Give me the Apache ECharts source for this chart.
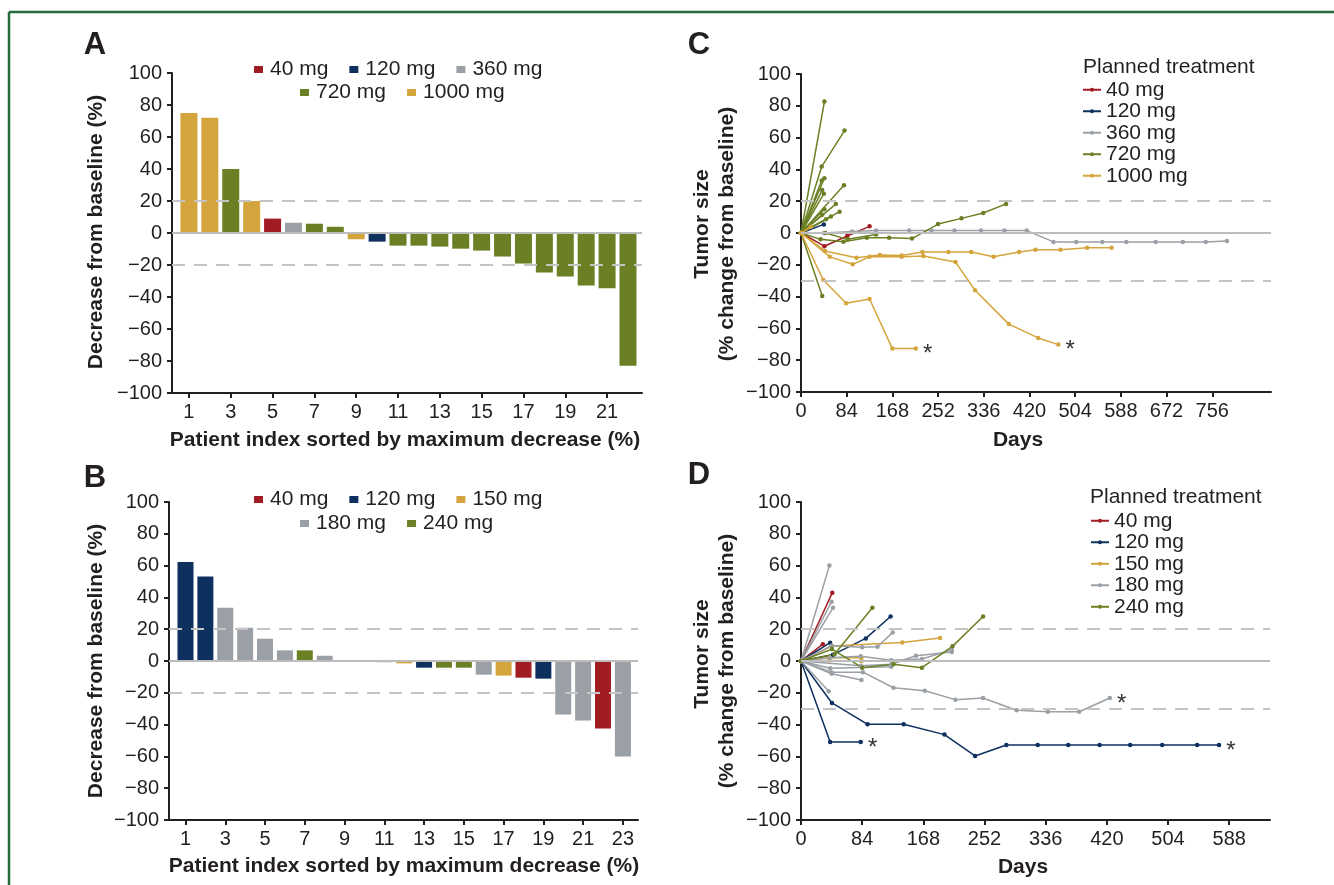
<!DOCTYPE html>
<html>
<head>
<meta charset="utf-8">
<script src="https://cdn.jsdelivr.net/npm/echarts@6/dist/echarts.min.js"></script>
<style>
  html, body { margin: 0; padding: 0; background: #fff; }
  #chart { width: 1334px; height: 885px; }
</style>
</head>
<body>
<div id="chart"></div>
<script>
// ---------- Panel A: best change per patient (first cohort) ----------
const patientsA = [1, 2, 3, 4, 5, 6, 7, 8, 9, 10, 11, 12, 13, 14, 15, 16, 17, 18, 19, 20, 21, 22];
const doseA = ['1000 mg', '1000 mg', '720 mg', '1000 mg', '40 mg', '360 mg', '720 mg', '720 mg', '1000 mg', '120 mg',
  '720 mg', '720 mg', '720 mg', '720 mg', '720 mg', '720 mg', '720 mg', '720 mg', '720 mg', '720 mg', '720 mg', '720 mg'];
const changeA = [75, 72, 40, 20, 9, 6.4, 5.8, 3.9, -3.9, -5.4, -7.9, -7.9, -8.5, -9.8, -11, -14.7, -19.1, -24.7, -27.2, -32.8, -34.6, -83];
const legendA1 = ['40 mg', '120 mg', '360 mg'];
const legendA2 = ['720 mg', '1000 mg'];

// ---------- Panel B: best change per patient (second cohort) ----------
const patientsB = [1, 2, 3, 4, 5, 6, 7, 8, 9, 10, 11, 12, 13, 14, 15, 16, 17, 18, 19, 20, 21, 22, 23];
const doseB = ['120 mg', '120 mg', '180 mg', '180 mg', '180 mg', '180 mg', '240 mg', '180 mg', '150 mg', '180 mg', '180 mg',
  '150 mg', '120 mg', '240 mg', '240 mg', '180 mg', '150 mg', '40 mg', '120 mg', '180 mg', '180 mg', '40 mg', '180 mg'];
const changeB = [62.3, 53.1, 33.5, 20.9, 14, 6.7, 6.7, 3.3, 0.4, 0, -0.8, -1.5, -4.2, -4.2, -4.2, -8.6, -9.2, -10.5, -11.1, -33.7, -37.4, -42.5, -60];
const legendB1 = ['40 mg', '120 mg', '150 mg'];
const legendB2 = ['180 mg', '240 mg'];

// ---------- Tick labels ----------
const ticksA = [1, 3, 5, 7, 9, 11, 13, 15, 17, 19, 21];
const ticksB = [1, 3, 5, 7, 9, 11, 13, 15, 17, 19, 21, 23];
const dayTicksC = [0, 84, 168, 252, 336, 420, 504, 588, 672, 756];
const dayTicksD = [0, 84, 168, 252, 336, 420, 504, 588];

// ---------- Panel C: tumor size over time, [day, % change] ----------
const dosesC = ['40 mg', '120 mg', '360 mg', '720 mg', '1000 mg'];
const curvesC_40 = [
  [[0, 0], [43, -8.3], [85, -1.9], [126, 4.2]]
];
const curvesC_120 = [
  [[0, 0], [42, 5.4]]
];
const curvesC_360 = [
  [[0, 0], [42, 0], [94, 1], [138, 1.6], [199, 1.6], [240, 1.5], [282, 1.5], [331, 1.5], [374, 1.5], [415, 1.5],
   [464, -5.6], [506, -5.6], [554, -5.6], [598, -5.6], [652, -5.6], [702, -5.6], [744, -5.6], [783, -5]]
];
const curvesC_720 = [
  [[0, 0], [43, 82.7]],
  [[0, 0], [38, 41.8], [80, 64.4]],
  [[0, 0], [43, 34.5]],
  [[0, 0], [38, 33]],
  [[0, 0], [39, 27]],
  [[0, 0], [42, 24.7]],
  [[0, 0], [79, 30]],
  [[0, 0], [64, 18.2]],
  [[0, 0], [43, 14.9]],
  [[0, 0], [71, 13.4]],
  [[0, 0], [39, 11.5]],
  [[0, 0], [55, 10.3]],
  [[0, 0], [46, 8.6]],
  [[0, 0], [39, -39.6]],
  [[0, 0], [45, 0], [86, -4], [138, -1]],
  [[0, 0], [36, -4], [78, -5.5], [121, -3], [162, -3], [204, -3.5], [252, 5.6], [295, 9.2], [335, 12.6], [377, 18.3]]
];
const curvesC_1000 = [
  [[0, 0], [41, -29.6], [83, -44.2], [126, -41.5], [168, -72.7], [211, -72.7]],
  [[0, 0], [44, -11.3], [102, -15.6], [145, -13.8], [185, -14.2], [223, -11.9], [271, -11.9], [313, -11.9],
   [354, -15], [401, -12], [431, -10.5], [477, -10.5], [526, -9.2], [571, -9.2]],
  [[0, 0], [53, -15], [95, -19.7], [126, -15], [185, -15], [225, -14.4], [284, -18.3], [320, -36], [382, -57.3],
   [436, -66], [473, -70.2]],
  [[0, 0], [18, 4]]
];
// curves whose final assessment carries an asterisk: [dose, curve index]
const asteriskC = [['1000 mg', 0], ['1000 mg', 2]];

// ---------- Panel D: tumor size over time, [day, % change] ----------
const dosesD = ['40 mg', '120 mg', '150 mg', '180 mg', '240 mg'];
const curvesD_40 = [
  [[0, 0], [43, 43]],
  [[0, 0], [30, 10.6]]
];
const curvesD_120 = [
  [[0, 0], [40, 11.5]],
  [[0, 0], [44, 4], [89, 14.2], [123, 28]],
  [[0, 0], [40, -51], [82, -51]],
  [[0, 0], [42.5, -26.4], [91.5, -39.8], [141, -39.8], [197, -46.3], [239, -59.7], [282, -52.8], [325, -52.8],
   [367, -52.8], [410, -52.8], [452, -52.8], [496, -52.8], [544, -52.8], [574, -52.8]]
];
const curvesD_150 = [
  [[0, 0], [42.5, 9.4], [139, 11.7], [191, 14.4]],
  [[0, 0], [39, 2], [83, 2]],
  [[0, 0], [39, 0.3], [83, 0]]
];
const curvesD_180 = [
  [[0, 0], [39, 60]],
  [[0, 0], [42, 37.3]],
  [[0, 0], [44, 33.5]],
  [[0, 0], [42, 9.6], [84, 8.6], [105, 9], [126, 18]],
  [[0, 0], [40, 2], [82, 3], [124, 0.5], [166, 1.3], [207, 7]],
  [[0, 0], [82, -3], [124, -2], [158, 3.3], [207, 5.6]],
  [[0, 0], [42, -8], [83, -12]],
  [[0, 0], [38, -19]],
  [[0, 0], [40, -4.6], [124, -3.6]],
  [[0, 0], [42, -7], [85, -7], [127, -16.8], [170, -18.7], [212, -24.3], [250, -23.3], [296, -31], [339, -31.9],
   [382, -31.9], [424, -23.3]]
];
const curvesD_240 = [
  [[0, 0], [42.5, 7.5], [84, -4.2], [127, -2.1], [166, -4.2], [208, 9.2], [250, 28]],
  [[0, 0], [46, 4.2], [98, 33.5]]
];
const asteriskD = [['120 mg', 2], ['120 mg', 3], ['180 mg', 9]];

// ---------- Styling ----------
const FONT = '"Liberation Sans", Arial, Helvetica, sans-serif';
const INK = '#231f20';
const DOSE_COLOR = {
  '40 mg': '#a11d23', '120 mg': '#0d305f', '150 mg': '#d5a53d', '180 mg': '#9aa0a5',
  '240 mg': '#6b8024', '360 mg': '#9aa0a5', '720 mg': '#6b8024', '1000 mg': '#d5a53d'
};
const REF_GRAY = '#c4c4c4';

const curvesC = { '40 mg': curvesC_40, '120 mg': curvesC_120, '360 mg': curvesC_360, '720 mg': curvesC_720, '1000 mg': curvesC_1000 };
const curvesD = { '40 mg': curvesD_40, '120 mg': curvesD_120, '150 mg': curvesD_150, '180 mg': curvesD_180, '240 mg': curvesD_240 };

const minusFmt = v => (v < 0 ? '\u2212' + Math.abs(v) : String(v));

function refLines(levels) {
  const data = levels.map(v => ({
    yAxis: v,
    lineStyle: v === 0
      ? { type: 'solid', color: '#bdbdbd', width: 2 }
      : { type: [13, 9], color: REF_GRAY, width: 2 }
  }));
  return { silent: true, symbol: ['none', 'none'], label: { show: false }, data, animation: false };
}

function valueYAxis(gridIndex) {
  return {
    gridIndex, type: 'value', min: -100, max: 100, interval: 20,
    axisLine: { show: true, onZero: false, lineStyle: { color: INK, width: 2 } },
    axisTick: { show: true, length: 5, lineStyle: { color: INK, width: 2 } },
    axisLabel: { fontSize: 20, fontFamily: FONT, color: INK, margin: 10, formatter: minusFmt },
    splitLine: { show: false }
  };
}

function valueXAxis(gridIndex, min, max, ticks) {
  return {
    gridIndex, type: 'value', min, max,
    axisLine: { show: true, onZero: false, lineStyle: { color: INK, width: 2 } },
    axisTick: { show: true, length: 5, customValues: ticks, lineStyle: { color: INK, width: 2 } },
    axisLabel: { fontSize: 20, fontFamily: FONT, color: INK, margin: 9, customValues: ticks },
    splitLine: { show: false }
  };
}

function barSeries(prefix, axisIdx, patients, doses, values, barWidth, refFirst) {
  const order = [];
  doses.forEach(d => { if (!order.includes(d)) order.push(d); });
  return order.map((dose, k) => {
    const s = {
      name: prefix + dose, type: 'bar', xAxisIndex: axisIdx, yAxisIndex: axisIdx,
      barWidth, barGap: '-100%', animation: false,
      itemStyle: { color: DOSE_COLOR[dose] },
      data: patients.map((p, i) => (doses[i] === dose ? [p, values[i]] : null)).filter(Boolean)
    };
    if (k === 0) s.markLine = refLines(refFirst);
    return s;
  });
}

function lineSeries(prefix, axisIdx, doses, curves, starred, refLevels) {
  const out = [];
  doses.forEach(dose => {
    curves[dose].forEach((curve, ci) => {
      const hasStar = starred.some(([d, c]) => d === dose && c === ci);
      const data = curve.map((pt, pi) => {
        if (hasStar && pi === curve.length - 1) {
          return {
            value: pt,
            label: { show: true, formatter: '*', position: 'right', distance: 5, offset: [0, 6],
                     fontSize: 24, fontFamily: FONT, color: '#333' }
          };
        }
        return pt;
      });
      out.push({
        name: prefix + dose, type: 'line', xAxisIndex: axisIdx, yAxisIndex: axisIdx,
        symbol: 'circle', symbolSize: 4.5, showSymbol: true, animation: false,
        lineStyle: { color: DOSE_COLOR[dose], width: 1.5 },
        itemStyle: { color: DOSE_COLOR[dose] },
        emphasis: { disabled: true },
        data
      });
    });
  });
  out[0].markLine = refLines(refLevels);
  out[0].z = 1;
  return out;
}

function barLegend(prefix, names, left, top) {
  return {
    data: names.map(n => prefix + n), left, top, orient: 'horizontal', padding: 0,
    icon: 'rect', itemWidth: 9, itemHeight: 7, itemGap: 21,
    formatter: n => n.slice(prefix.length),
    textStyle: { fontSize: 21, fontFamily: FONT, color: INK, padding: [0, 0, 0, 2] },
    selectedMode: false
  };
}

function lineLegend(prefix, names, left, top) {
  return {
    data: names.map(n => prefix + n), left, top, orient: 'vertical', padding: 0,
    itemWidth: 18, itemHeight: 5, itemGap: 0,
    formatter: n => n.slice(prefix.length),
    textStyle: { fontSize: 21, fontFamily: FONT, color: INK, lineHeight: 21.5 },
    selectedMode: false
  };
}

function txt(x, y, text, font, rotate) {
  return {
    type: 'text', x, y, rotation: rotate ? Math.PI / 2 : 0,
    style: { text, font, fill: INK, align: 'center', verticalAlign: 'middle' }
  };
}

const BOLD21 = 'bold 21px ' + FONT;
const LETTER = 'bold 31px ' + FONT;

const option = {
  backgroundColor: '#ffffff',
  animation: false,
  grid: [
    { left: 172, top: 73, width: 470, height: 320 },
    { left: 169, top: 502, width: 469, height: 318 },
    { left: 801, top: 74, width: 470, height: 318 },
    { left: 801, top: 502, width: 469, height: 318 }
  ],
  xAxis: [
    valueXAxis(0, 0.19, 22.67, ticksA),
    valueXAxis(1, 0.17, 23.76, ticksB),
    valueXAxis(2, 0, 864, dayTicksC),
    valueXAxis(3, 0, 644, dayTicksD)
  ],
  yAxis: [valueYAxis(0), valueYAxis(1), valueYAxis(2), valueYAxis(3)],
  legend: [
    barLegend('A:', legendA1, 254, 59),
    barLegend('A:', legendA2, 300, 82),
    barLegend('B:', legendB1, 254, 489),
    barLegend('B:', legendB2, 300, 513),
    lineLegend('C:', dosesC, 1082, 79),
    lineLegend('D:', dosesD, 1090, 510)
  ],
  series: [
    ...barSeries('A:', 0, patientsA, doseA, changeA, 17, [20, 0, -20]),
    ...barSeries('B:', 1, patientsB, doseB, changeB, 16, [20, 0, -20]),
    ...lineSeries('C:', 2, dosesC, curvesC, asteriskC, [20, 0, -30]),
    ...lineSeries('D:', 3, dosesD, curvesD, asteriskD, [20, 0, -30])
  ],
  graphic: [
    // page frame
    { type: 'line', shape: { x1: 9, y1: 12, x2: 1334, y2: 12 }, style: { stroke: '#276a3c', lineWidth: 2.5 } },
    { type: 'line', shape: { x1: 9, y1: 12, x2: 9, y2: 885 }, style: { stroke: '#276a3c', lineWidth: 2.5 } },
    // panel letters
    txt(95, 45, 'A', LETTER), txt(95, 478, 'B', LETTER),
    txt(699, 45, 'C', LETTER), txt(699, 475, 'D', LETTER),
    // axis titles
    txt(96, 232, 'Decrease from baseline (%)', BOLD21, true),
    txt(96, 661, 'Decrease from baseline (%)', BOLD21, true),
    txt(405, 440, 'Patient index sorted by maximum decrease (%)', BOLD21),
    txt(404, 866, 'Patient index sorted by maximum decrease (%)', BOLD21),
    txt(702, 224, 'Tumor size', BOLD21, true),
    txt(727, 234, '(% change from baseline)', BOLD21, true),
    txt(702, 654, 'Tumor size', BOLD21, true),
    txt(727, 661, '(% change from baseline)', BOLD21, true),
    txt(1018, 440, 'Days', BOLD21),
    txt(1023, 867, 'Days', BOLD21),
    // legend headings
    { type: 'text', x: 1083, y: 67, style: { text: 'Planned treatment', font: '21px ' + FONT, fill: INK, align: 'left', verticalAlign: 'middle' } },
    { type: 'text', x: 1090, y: 497, style: { text: 'Planned treatment', font: '21px ' + FONT, fill: INK, align: 'left', verticalAlign: 'middle' } }
  ]
};

const chart = echarts.init(document.getElementById('chart'), null, { renderer: 'canvas' });
chart.setOption(option);
</script>
</body>
</html>
